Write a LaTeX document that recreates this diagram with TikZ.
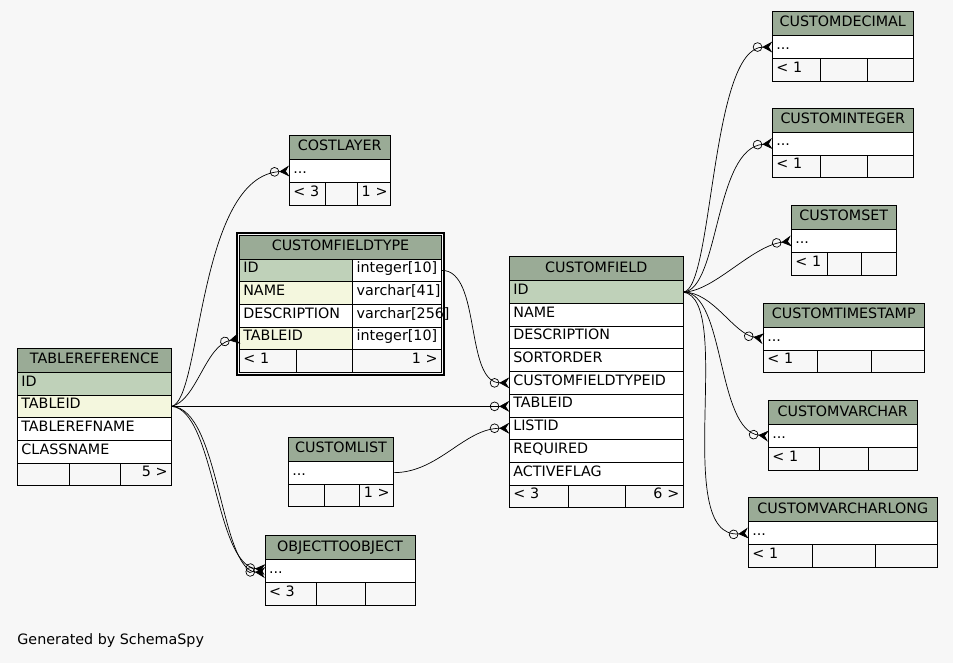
\documentclass[tikz,border=0pt]{standalone}
\usepackage{fontspec}
\setmainfont{DejaVu Sans}
\usepackage{tikz}
\usetikzlibrary{arrows.meta,positioning,fit}
\usepackage[dvipsnames,svgnames,x11names]{xcolor}

\definecolor{headgreen}{HTML}{9AAB96}
\definecolor{keygreen}{HTML}{BFD1B9}
\definecolor{fkyellow}{HTML}{F4F7DE}
\definecolor{bggray}{HTML}{F7F7F7}

\tikzset{
    hd/.style={draw, fill=headgreen, inner sep=0pt, outer sep=0pt,
        minimum width=#1, text height=15.3pt, text depth=8.7pt},
    cell/.style={draw, fill=white, inner xsep=4pt, inner ysep=0pt, outer sep=0pt,
        text width=#1, align=left, text height=13.7pt, text depth=9pt},
    key/.style={cell=#1, fill=keygreen},
    fk/.style={cell=#1, fill=fkyellow},
    foot/.style={cell=#1, fill=none},
    footr/.style={cell=#1, fill=none, align=right},
    rel/.style={
        line width=0.7pt,
        -{Circle[open, length=9.5pt, width=9.5pt]
          Stealth[reversed, length=10pt, width=11pt, inset=3.5pt]}
    }
}

\begin{document}
\begin{tikzpicture}[x=1pt, y=-1pt, line width=0.8pt,
    font=\fontsize{14.3}{17}\selectfont]

    \fill[bggray] (0,0) rectangle (953,663);
    \useasboundingbox (0,0) rectangle (953,663);

    % TABLEREFERENCE
    \node[hd=154.4pt, anchor=north west] (tr-head) at (17.3,348.3) {TABLEREFERENCE};
    \node[key=146.4pt, below=0pt of tr-head] (tr-id) {ID};
    \node[fk=146.4pt, below=0pt of tr-id] (tr-tableid) {TABLEID};
    \node[cell=146.4pt, below=0pt of tr-tableid] (tr-refname) {TABLEREFNAME};
    \node[cell=146.4pt, below=0pt of tr-refname] (tr-classname) {CLASSNAME};
    \node[foot=44pt, anchor=north west] (tr-f1) at (tr-classname.south west) {};
    \node[foot=43pt, right=0pt of tr-f1] (tr-f2) {};
    \node[footr=43.4pt, right=0pt of tr-f2] (tr-f3) {5~>};

    % COSTLAYER
    \node[hd=100.7pt, anchor=north west] (clr-head) at (289.3,135.7) {COSTLAYER};
    \node[cell=92.7pt, below=0pt of clr-head] (clr-row) {...};
    \node[foot=27.7pt, anchor=north west] (clr-f1) at (clr-row.south west) {<~3};
    \node[foot=24.7pt, right=0pt of clr-f1] (clr-f2) {};
    \node[footr=24.3pt, right=0pt of clr-f2] (clr-f3) {1~>};

    % CUSTOMFIELDTYPE
    \node[hd=202.4pt, anchor=north west] (cft-head) at (239.3,235) {CUSTOMFIELDTYPE};
    \node[key=105.4pt, anchor=north west] (cft-id) at (cft-head.south west) {ID};
    \node[cell=81pt, right=0pt of cft-id] (cft-idt) {integer[10]};
    \node[fk=105.4pt, below=0pt of cft-id] (cft-name) {NAME};
    \node[cell=81pt, right=0pt of cft-name] (cft-namet) {varchar[41]};
    \node[cell=105.4pt, below=0pt of cft-name] (cft-desc) {DESCRIPTION};
    \node[cell=81pt, right=0pt of cft-desc] (cft-desct) {varchar[256]};
    \node[fk=105.4pt, below=0pt of cft-desc] (cft-tableid) {TABLEID};
    \node[cell=81pt, right=0pt of cft-tableid] (cft-tableidt) {integer[10]};
    \node[foot=49.4pt, anchor=north west] (cft-f1) at (cft-tableid.south west) {<~1};
    \node[foot=48pt, right=0pt of cft-f1] (cft-f2) {};
    \node[footr=81pt, right=0pt of cft-f2] (cft-f3) {1~>};

    % CUSTOMLIST
    \node[hd=105.4pt, anchor=north west] (cl-head) at (288.3,437.3) {CUSTOMLIST};
    \node[cell=97.4pt, below=0pt of cl-head] (cl-row) {...};
    \node[foot=27.7pt, anchor=north west] (cl-f1) at (cl-row.south west) {};
    \node[foot=27.3pt, right=0pt of cl-f1] (cl-f2) {};
    \node[footr=26.4pt, right=0pt of cl-f2] (cl-f3) {1~>};

    % OBJECTTOOBJECT
    \node[hd=150pt, anchor=north west] (oto-head) at (265,535.7) {OBJECTTOOBJECT};
    \node[cell=142pt, below=0pt of oto-head] (oto-row) {...};
    \node[foot=43.7pt, anchor=north west] (oto-f1) at (oto-row.south west) {<~3};
    \node[foot=41pt, right=0pt of oto-f1] (oto-f2) {};
    \node[footr=41.3pt, right=0pt of oto-f2] (oto-f3) {};

    % CUSTOMFIELD
    \node[hd=174pt, anchor=north west] (cf-head) at (509.3,256.7) {CUSTOMFIELD};
    \node[key=166pt, below=0pt of cf-head] (cf-id) {ID};
    \node[cell=166pt, below=0pt of cf-id] (cf-name) {NAME};
    \node[cell=166pt, below=0pt of cf-name] (cf-desc) {DESCRIPTION};
    \node[cell=166pt, below=0pt of cf-desc] (cf-sort) {SORTORDER};
    \node[cell=166pt, below=0pt of cf-sort] (cf-ftid) {CUSTOMFIELDTYPEID};
    \node[cell=166pt, below=0pt of cf-ftid] (cf-tableid) {TABLEID};
    \node[cell=166pt, below=0pt of cf-tableid] (cf-listid) {LISTID};
    \node[cell=166pt, below=0pt of cf-listid] (cf-req) {REQUIRED};
    \node[cell=166pt, below=0pt of cf-req] (cf-active) {ACTIVEFLAG};
    \node[foot=51pt, anchor=north west] (cf-f1) at (cf-active.south west) {<~3};
    \node[foot=49.4pt, right=0pt of cf-f1] (cf-f2) {};
    \node[footr=49.6pt, right=0pt of cf-f2] (cf-f3) {6~>};

    % value tables on the right
    \node[hd=141pt, anchor=north west] (cd-head) at (772.3,11.7) {CUSTOMDECIMAL};
    \node[cell=133pt, below=0pt of cd-head] (cd-row) {...};
    \node[foot=40pt, anchor=north west] (cd-f1) at (cd-row.south west) {<~1};
    \node[foot=39.4pt, right=0pt of cd-f1] (cd-f2) {};
    \node[foot=37.6pt, right=0pt of cd-f2] (cd-f3) {};

    \node[hd=141pt, anchor=north west] (ci-head) at (772.3,108.3) {CUSTOMINTEGER};
    \node[cell=133pt, below=0pt of ci-head] (ci-row) {...};
    \node[foot=40pt, anchor=north west] (ci-f1) at (ci-row.south west) {<~1};
    \node[foot=39.4pt, right=0pt of ci-f1] (ci-f2) {};
    \node[foot=37.6pt, right=0pt of ci-f2] (ci-f3) {};

    \node[hd=105pt, anchor=north west] (cs-head) at (791.3,205.7) {CUSTOMSET};
    \node[cell=97pt, below=0pt of cs-head] (cs-row) {...};
    \node[foot=27.7pt, anchor=north west] (cs-f1) at (cs-row.south west) {<~1};
    \node[foot=26.7pt, right=0pt of cs-f1] (cs-f2) {};
    \node[foot=26.6pt, right=0pt of cs-f2] (cs-f3) {};

    \node[hd=161pt, anchor=north west] (cts-head) at (763.3,303.3) {CUSTOMTIMESTAMP};
    \node[cell=153pt, below=0pt of cts-head] (cts-row) {...};
    \node[foot=46pt, anchor=north west] (cts-f1) at (cts-row.south west) {<~1};
    \node[foot=46.4pt, right=0pt of cts-f1] (cts-f2) {};
    \node[foot=44.6pt, right=0pt of cts-f2] (cts-f3) {};

    \node[hd=149pt, anchor=north west] (cv-head) at (768.3,400.7) {CUSTOMVARCHAR};
    \node[cell=141pt, below=0pt of cv-head] (cv-row) {...};
    \node[foot=43pt, anchor=north west] (cv-f1) at (cv-row.south west) {<~1};
    \node[foot=41.4pt, right=0pt of cv-f1] (cv-f2) {};
    \node[foot=40.6pt, right=0pt of cv-f2] (cv-f3) {};

    \node[hd=189pt, anchor=north west] (cvl-head) at (748.3,497.7) {CUSTOMVARCHARLONG};
    \node[cell=181pt, below=0pt of cvl-head] (cvl-row) {...};
    \node[foot=56pt, anchor=north west] (cvl-f1) at (cvl-row.south west) {<~1};
    \node[foot=55.4pt, right=0pt of cvl-f1] (cvl-f2) {};
    \node[foot=53.6pt, right=0pt of cvl-f2] (cvl-f3) {};

    % relations
    \draw[rel] (cft-idt.east) .. controls +(40,0) and +(-45,0) .. (cf-ftid.west);
    \draw[rel] (tr-tableid.east) -- (cf-tableid.west |- tr-tableid.east);
    \draw[rel] (cl-row.east) .. controls +(45,0) and +(-45,0) .. (cf-listid.west);
    \draw[rel] (tr-tableid.east) .. controls +(30,-6) and +(-92,5) .. (clr-row.west);
    \draw[rel] (tr-tableid.east) .. controls +(25,-6) and +(-34,7) .. (cft-tableid.west);
    \draw[rel] (tr-tableid.east) .. controls +(43,4) and +(-50,-5) .. ([yshift=1.5pt]oto-row.west);
    \draw[rel] (tr-tableid.east) .. controls +(48,2) and +(-45,-2) .. ([yshift=-1.5pt]oto-row.west);

    \draw[rel] (cf-id.east) .. controls +(30,-2) and +(-62,0) .. (cd-row.west);
    \draw[rel] (cf-id.east) .. controls +(36,-2) and +(-58,4) .. (ci-row.west);
    \draw[rel] (cf-id.east) .. controls +(30,0) and +(-40,5) .. (cs-row.west);
    \draw[rel] (cf-id.east) .. controls +(30,0) and +(-30,-5) .. (cts-row.west);
    \draw[rel] (cf-id.east) .. controls +(42,0) and +(-52,-5) .. (cv-row.west);
    \draw[rel] (cf-id.east) .. controls +(52,8) and +(-78,7) .. (cvl-row.west);

    % frame round the selected table
    \node[draw, line width=2pt, fit=(cft-head)(cft-f3), inner sep=2pt] (cft-frame) {};

    \node[anchor=base west, inner sep=0pt] (gen) at (17,644) {Generated by SchemaSpy};

\end{tikzpicture}
\end{document}
